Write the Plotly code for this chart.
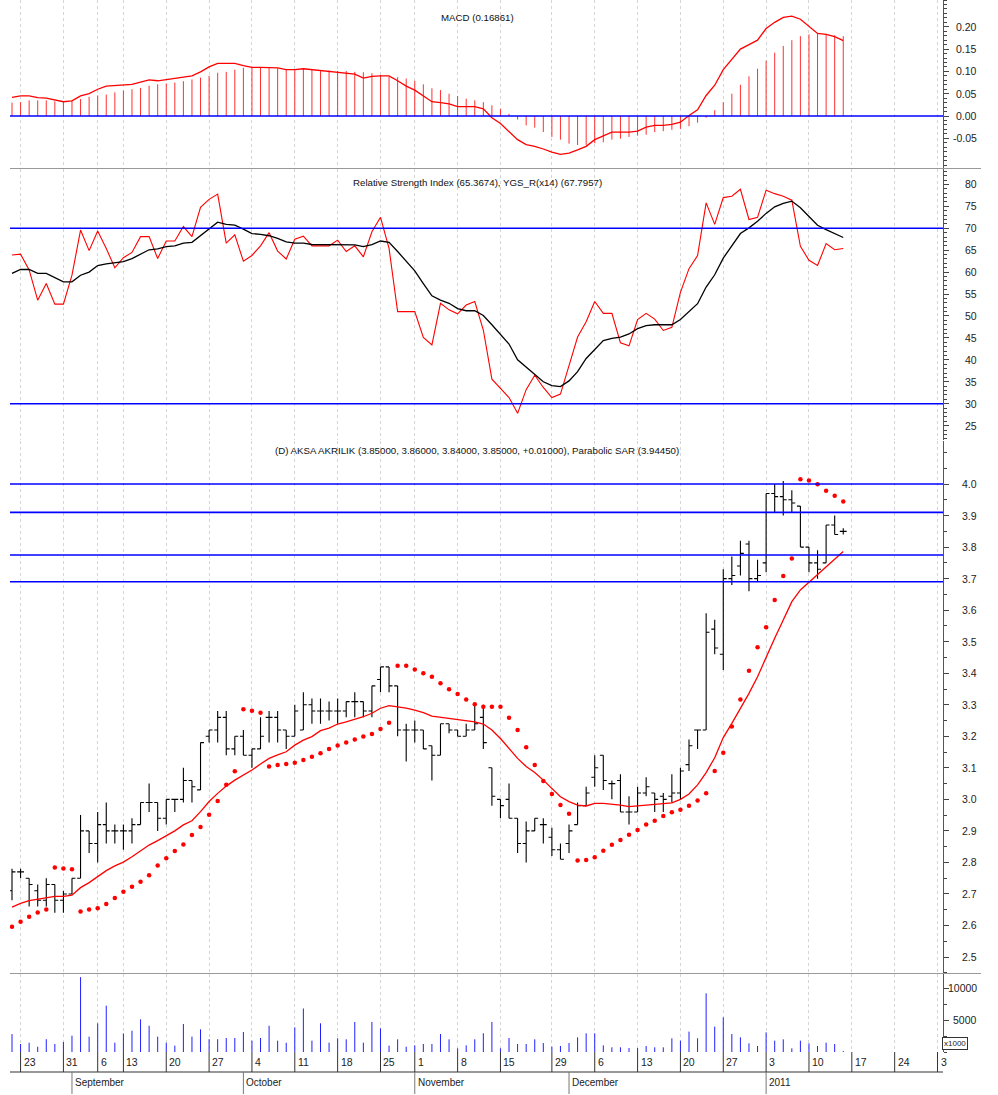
import pandas as pd
import plotly.graph_objects as go

# ---------------- data ----------------
holidays = ["2010-08-30", "2010-09-09", "2010-09-10", "2010-10-29",
            "2010-11-16", "2010-11-17", "2010-11-18", "2010-11-19"]
dates = [d for d in pd.bdate_range("2010-08-20", "2011-01-14").strftime("%Y-%m-%d") if d not in holidays]
future_days = list(pd.bdate_range("2011-01-17", "2011-02-04").strftime("%Y-%m-%d"))

opens = [2.71, 2.77, 2.75, 2.71, 2.68, 2.73, 2.68, 2.70, 2.75, 2.90,
         2.86, 2.92, 2.90, 2.90, 2.90, 2.92, 2.99, 2.99, 2.94, 3.00,
         3.00, 3.06, 3.03, 3.20, 3.22, 3.26, 3.16, 3.20, 3.14, 3.16,
         3.26, 3.26, 3.22, 3.20, 3.22, 3.30, 3.28, 3.28, 3.28, 3.28,
         3.31, 3.31, 3.28, 3.38, 3.42, 3.36, 3.22, 3.22, 3.22, 3.17,
         3.14, 3.24, 3.22, 3.20, 3.22, 3.26, 3.10, 3.00, 3.00, 2.94,
         2.86, 2.90, 2.92, 2.88, 2.84, 2.86, 2.92, 2.98, 3.07, 3.14,
         3.05, 3.06, 2.96, 2.96, 3.02, 3.02, 3.01, 3.01, 3.02, 3.11,
         3.22, 3.22, 3.54, 3.46, 3.70, 3.74, 3.81, 3.70, 3.75, 3.97,
         3.96, 3.95, 3.93, 3.80, 3.75, 3.75, 3.87, 3.85]
highs = [2.78, 2.78, 2.75, 2.73, 2.75, 2.73, 2.71, 2.75, 2.95, 2.90,
         2.96, 2.99, 2.92, 2.92, 2.94, 2.99, 3.05, 2.99, 3.00, 3.00,
         3.10, 3.06, 3.18, 3.22, 3.28, 3.28, 3.20, 3.22, 3.16, 3.26,
         3.28, 3.28, 3.22, 3.30, 3.34, 3.32, 3.32, 3.31, 3.32, 3.31,
         3.34, 3.31, 3.36, 3.42, 3.42, 3.36, 3.24, 3.25, 3.22, 3.17,
         3.24, 3.24, 3.22, 3.24, 3.30, 3.30, 3.10, 3.00, 3.05, 2.94,
         2.93, 2.94, 2.94, 2.91, 2.86, 2.92, 2.99, 3.04, 3.14, 3.14,
         3.06, 3.08, 3.01, 3.04, 3.07, 3.02, 3.02, 3.08, 3.10, 3.19,
         3.22, 3.59, 3.57, 3.73, 3.77, 3.82, 3.82, 3.76, 3.97, 4.00,
         4.01, 3.98, 3.93, 3.80, 3.79, 3.87, 3.90, 3.86]
lows = [2.68, 2.75, 2.66, 2.66, 2.66, 2.64, 2.64, 2.70, 2.75, 2.83,
        2.80, 2.86, 2.86, 2.84, 2.86, 2.92, 2.96, 2.90, 2.92, 2.96,
        2.99, 2.99, 3.03, 3.18, 3.18, 3.14, 3.14, 3.14, 3.10, 3.16,
        3.18, 3.18, 3.16, 3.20, 3.22, 3.24, 3.24, 3.25, 3.24, 3.26,
        3.26, 3.26, 3.26, 3.34, 3.34, 3.20, 3.12, 3.18, 3.16, 3.06,
        3.14, 3.21, 3.20, 3.20, 3.22, 3.16, 2.98, 2.94, 2.94, 2.83,
        2.80, 2.90, 2.86, 2.82, 2.81, 2.83, 2.92, 2.98, 3.04, 3.03,
        3.00, 2.96, 2.92, 2.96, 3.01, 2.96, 2.96, 2.99, 3.00, 3.09,
        3.16, 3.22, 3.46, 3.41, 3.68, 3.71, 3.66, 3.69, 3.72, 3.91,
        3.90, 3.91, 3.80, 3.72, 3.70, 3.75, 3.84, 3.84]
closes = [2.77, 2.77, 2.73, 2.68, 2.73, 2.68, 2.70, 2.75, 2.90, 2.86,
          2.92, 2.90, 2.90, 2.90, 2.92, 2.99, 2.99, 2.94, 3.00, 3.00,
          3.06, 3.04, 3.18, 3.22, 3.26, 3.16, 3.20, 3.14, 3.16, 3.20,
          3.26, 3.22, 3.20, 3.28, 3.30, 3.28, 3.28, 3.28, 3.28, 3.31,
          3.31, 3.28, 3.36, 3.42, 3.36, 3.22, 3.22, 3.22, 3.16, 3.14,
          3.24, 3.22, 3.20, 3.22, 3.24, 3.18, 3.01, 2.98, 2.94, 2.86,
          2.90, 2.94, 2.92, 2.84, 2.81, 2.90, 2.98, 3.02, 3.10, 3.06,
          3.05, 2.96, 2.96, 3.02, 3.04, 3.00, 3.00, 3.02, 3.09, 3.17,
          3.22, 3.53, 3.48, 3.70, 3.71, 3.78, 3.70, 3.71, 3.97, 3.96,
          3.95, 3.94, 3.80, 3.75, 3.73, 3.87, 3.84, 3.85]
sar = [2.596, 2.612, 2.628, 2.641, 2.651, 2.784, 2.781, 2.778, 2.644, 2.651,
       2.655, 2.668, 2.687, 2.707, 2.723, 2.739, 2.759, 2.790, 2.813, 2.836,
       2.857, 2.887, 2.912, 2.951, 2.995, 3.046, 3.089, 3.286, 3.281, 3.275,
       3.104, 3.109, 3.112, 3.116, 3.125, 3.135, 3.146, 3.160, 3.171, 3.180,
       3.190, 3.199, 3.207, 3.223, 3.243, 3.424, 3.424, 3.412, 3.400, 3.389,
       3.368, 3.349, 3.334, 3.317, 3.302, 3.294, 3.294, 3.294, 3.259, 3.220,
       3.165, 3.109, 3.058, 3.017, 2.982, 2.954, 2.806, 2.808, 2.816, 2.837,
       2.856, 2.871, 2.888, 2.903, 2.920, 2.932, 2.947, 2.959, 2.967, 2.980,
       2.996, 3.019, 3.090, 3.148, 3.231, 3.317, 3.408, 3.482, 3.546, 3.632,
       3.708, 3.764, 4.015, 4.011, 3.999, 3.979, 3.963, 3.945]
price_ma = [2.658, 2.670, 2.679, 2.684, 2.689, 2.692, 2.692, 2.696, 2.720, 2.736,
            2.755, 2.774, 2.789, 2.801, 2.818, 2.836, 2.855, 2.869, 2.884, 2.900,
            2.919, 2.932, 2.961, 2.993, 3.019, 3.042, 3.061, 3.077, 3.093, 3.112,
            3.130, 3.141, 3.151, 3.172, 3.188, 3.199, 3.218, 3.226, 3.239, 3.246,
            3.254, 3.262, 3.273, 3.289, 3.297, 3.294, 3.289, 3.283, 3.275, 3.264,
            3.260, 3.257, 3.254, 3.250, 3.246, 3.239, 3.220, 3.193, 3.162, 3.130,
            3.104, 3.085, 3.061, 3.035, 3.008, 2.993, 2.982, 2.979, 2.987, 2.987,
            2.985, 2.982, 2.977, 2.979, 2.982, 2.985, 2.987, 2.989, 3.000, 3.017,
            3.046, 3.085, 3.132, 3.196, 3.241, 3.289, 3.336, 3.389, 3.453, 3.511,
            3.569, 3.627, 3.664, 3.689, 3.712, 3.738, 3.762, 3.786]
price_levels = [4.00, 3.91, 3.775, 3.69]

rsi = [63.9, 64.1, 60.5, 53.6, 57.4, 52.7, 52.7, 59.3, 69.6, 64.9,
       69.4, 65.4, 61.0, 63.3, 64.5, 68.1, 68.1, 63.1, 67.1, 67.1,
       70.4, 68.1, 74.8, 76.6, 77.8, 66.6, 68.5, 62.5, 63.8, 66.0,
       69.0, 64.8, 63.0, 67.5, 68.2, 66.0, 66.0, 66.0, 67.3, 64.7,
       66.0, 63.5, 69.2, 72.5, 65.4, 51.0, 51.0, 51.0, 45.1, 43.4,
       52.9, 51.4, 50.5, 52.5, 53.3, 46.8, 35.6, 33.5, 31.4, 27.8,
       33.2, 36.5, 33.7, 31.4, 32.2, 38.7, 45.2, 48.7, 53.3, 50.6,
       50.6, 43.9, 43.2, 49.2, 50.6, 49.3, 46.7, 47.4, 55.4, 60.8,
       63.8, 75.8, 70.9, 77.0, 77.3, 78.9, 72.0, 72.5, 78.7, 77.9,
       77.3, 76.4, 65.9, 62.7, 61.5, 66.5, 65.1, 65.4]
rsi_ma = [59.7, 60.6, 60.6, 59.7, 59.7, 58.8, 57.8, 57.8, 59.3, 60.0,
          61.5, 61.9, 62.1, 62.4, 63.1, 64.1, 65.1, 65.3, 65.8, 66.0,
          66.6, 66.8, 68.3, 70.0, 71.4, 70.9, 70.7, 69.8, 68.8, 68.6,
          68.3, 67.7, 66.9, 66.6, 66.6, 66.3, 66.3, 66.3, 66.3, 66.3,
          66.2, 65.8, 66.3, 67.1, 66.8, 64.7, 62.4, 60.3, 57.4, 54.6,
          53.6, 52.9, 51.7, 51.2, 51.2, 50.1, 48.0, 45.9, 43.6, 40.0,
          38.3, 36.8, 35.0, 34.1, 33.9, 35.2, 37.3, 40.3, 42.3, 44.4,
          44.9, 45.2, 45.9, 47.1, 47.8, 48.0, 48.0, 48.0, 49.2, 50.9,
          52.8, 56.6, 59.4, 63.2, 66.0, 68.8, 70.1, 71.6, 73.4, 74.9,
          75.7, 76.2, 74.7, 72.6, 70.7, 69.7, 68.8, 67.9]
rsi_levels = [70, 30]

macd = [0.042, 0.045, 0.045, 0.041, 0.040, 0.036, 0.032, 0.034, 0.045, 0.050,
        0.060, 0.067, 0.068, 0.070, 0.071, 0.076, 0.081, 0.079, 0.082, 0.085,
        0.088, 0.090, 0.099, 0.110, 0.118, 0.118, 0.118, 0.113, 0.109, 0.109,
        0.109, 0.108, 0.104, 0.104, 0.106, 0.104, 0.102, 0.101, 0.098, 0.096,
        0.094, 0.085, 0.089, 0.090, 0.090, 0.079, 0.067, 0.058, 0.045, 0.032,
        0.030, 0.027, 0.021, 0.021, 0.021, 0.016, -0.004, -0.017, -0.036, -0.053,
        -0.064, -0.068, -0.074, -0.081, -0.086, -0.083, -0.076, -0.068, -0.053, -0.044,
        -0.036, -0.036, -0.036, -0.034, -0.025, -0.021, -0.021, -0.019, -0.014, 0.001,
        0.014, 0.046, 0.069, 0.104, 0.127, 0.150, 0.160, 0.170, 0.196, 0.210,
        0.221, 0.224, 0.217, 0.202, 0.185, 0.183, 0.178, 0.169]
macd_hist = [0.030, 0.031, 0.035, 0.035, 0.035, 0.033, 0.033, 0.035, 0.038, 0.043,
             0.046, 0.048, 0.053, 0.057, 0.060, 0.063, 0.068, 0.071, 0.073, 0.075,
             0.078, 0.082, 0.086, 0.090, 0.097, 0.099, 0.104, 0.108, 0.108, 0.108,
             0.108, 0.107, 0.105, 0.105, 0.105, 0.103, 0.103, 0.102, 0.101, 0.101,
             0.099, 0.098, 0.096, 0.092, 0.088, 0.087, 0.084, 0.079, 0.071, 0.062,
             0.058, 0.050, 0.045, 0.039, 0.035, 0.031, 0.024, 0.016, 0.005, -0.008,
             -0.021, -0.026, -0.036, -0.047, -0.053, -0.062, -0.065, -0.065, -0.061, -0.059,
             -0.053, -0.051, -0.047, -0.044, -0.042, -0.036, -0.034, -0.031, -0.029, -0.023,
             -0.015, -0.004, 0.013, 0.031, 0.050, 0.070, 0.089, 0.106, 0.124, 0.142,
             0.157, 0.170, 0.179, 0.183, 0.185, 0.183, 0.181, 0.179]
macd_levels = [0]

volume_k = [2800, 1250, 1450, 830, 2000, 1250, 1560, 2550, 11700, 2400,
            4480, 7240, 1450, 2900, 3330, 5100, 4100, 2400, 1450, 990,
            4370, 2400, 3540, 2000, 2000, 2190, 2190, 3120, 1770, 2190,
            4100, 1770, 1450, 3850, 6800, 1770, 4480, 1460, 2140, 1980,
            4690, 1460, 4690, 3700, 990, 1980, 830, 1040, 1250, 1250,
            2810, 1980, 570, 1040, 1980, 2920, 4690, 570, 2190, 1250,
            1250, 1980, 1400, 830, 940, 1400, 2290, 2920, 2920, 1040,
            730, 730, 620, 620, 940, 730, 730, 2140, 1770, 3180,
            2140, 9170, 3960, 5420, 2810, 2290, 1350, 940, 3070, 1770,
            1980, 570, 1770, 1350, 940, 1460, 1250, 160]

week_dates = ["2010-08-23", "2010-08-31", "2010-09-06", "2010-09-13", "2010-09-20", "2010-09-27",
              "2010-10-04", "2010-10-11", "2010-10-18", "2010-10-25", "2010-11-01", "2010-11-08",
              "2010-11-15", "2010-11-29", "2010-12-06", "2010-12-13", "2010-12-20", "2010-12-27",
              "2011-01-03", "2011-01-10", "2011-01-17", "2011-01-24", "2011-01-31"]
week_labels = ["23", "31", "6", "13", "20", "27", "4", "11", "18", "25", "1", "8",
               "15", "29", "6", "13", "20", "27", "3", "10", "17", "24", "3"]
month_dates = ["2010-09-01", "2010-10-01", "2010-11-01", "2010-12-01", "2011-01-03"]
month_labels = ["September", "October", "November", "December", "2011"]

macd_ticks = [-0.05, 0.0, 0.05, 0.10, 0.15, 0.20]
rsi_ticks = [25, 30, 35, 40, 45, 50, 55, 60, 65, 70, 75, 80]
price_ticks = [2.5, 2.6, 2.7, 2.8, 2.9, 3.0, 3.1, 3.2, 3.3, 3.4, 3.5, 3.6, 3.7, 3.8, 3.9, 4.0]
vol_ticks = [5000, 10000]

title_macd = "MACD (0.16861)"
title_rsi = "Relative Strength Index (65.3674), YGS_R(x14) (67.7957)"
title_price = "(D) AKSA AKRILIK (3.85000, 3.86000, 3.84000, 3.85000, +0.01000), Parabolic SAR (3.94450)"

# ---------------- layout helpers ----------------
W, H = 998, 1095
L, R = 10, 55
FONT = "Liberation Sans, Arial, sans-serif"
all_days = dates + future_days
pos = {d: i for i, d in enumerate(all_days)}
x = list(range(len(dates)))
week_pos = [pos[d] for d in week_dates]
month_pos = [pos[d] for d in month_dates]


def py(p):
    return 1 - p / H


def px_x(p):
    return (p - L) / (W - L - R)


def stems(xs, ys):
    sx, sy = [], []
    for a, b in zip(xs, ys):
        sx += [a, a, None]
        sy += [0, b, None]
    return sx, sy


XR = [-0.233, 108.64]
RED, BLUE = "#ff0000", "#0000ff"

fig = go.Figure()
# MACD
hx, hy = stems(x, macd_hist)
fig.add_trace(go.Scatter(x=hx, y=hy, mode="lines", line=dict(color="#ff3030", width=1),
                         xaxis="x", yaxis="y", hoverinfo="skip"))
fig.add_trace(go.Scatter(x=x, y=macd, mode="lines", line=dict(color=RED, width=1.3),
                         xaxis="x", yaxis="y", hoverinfo="skip"))
# RSI
fig.add_trace(go.Scatter(x=x, y=rsi, mode="lines", line=dict(color=RED, width=1.1),
                         xaxis="x2", yaxis="y2", hoverinfo="skip"))
fig.add_trace(go.Scatter(x=x, y=rsi_ma, mode="lines", line=dict(color="black", width=1.3),
                         xaxis="x2", yaxis="y2", hoverinfo="skip"))
# Price
fig.add_trace(go.Scatter(x=x, y=price_ma, mode="lines", line=dict(color=RED, width=1.3),
                         xaxis="x3", yaxis="y3", hoverinfo="skip"))
fig.add_trace(go.Ohlc(x=x, open=opens, high=highs, low=lows, close=closes, tickwidth=0.4,
                      increasing=dict(line=dict(color="black", width=1.1)),
                      decreasing=dict(line=dict(color="black", width=1.1)),
                      xaxis="x3", yaxis="y3", hoverinfo="skip"))
fig.add_trace(go.Scatter(x=x, y=sar, mode="markers", marker=dict(color=RED, size=4.5, line=dict(width=0)),
                         xaxis="x3", yaxis="y3", hoverinfo="skip"))
# Volume
vx, vy = stems(x, volume_k)
fig.add_trace(go.Scatter(x=vx, y=vy, mode="lines", line=dict(color="#2020ff", width=1),
                         xaxis="x4", yaxis="y4", hoverinfo="skip"))

panels = [
    ("y", [py(168), 1.0], [-0.1166, 0.2601], macd_ticks, 0.01, "{:.2f}"),
    ("y2", [py(440), py(169)], [21.72, 83.52], rsi_ticks, 1, "{:d}"),
    ("y3", [py(973), py(441)], [2.4493, 4.1365], price_ticks, 0.05, "{:.1f}"),
    ("y4", [py(1052), py(974)], [0, 12187], vol_ticks, 2500, "{:d}"),
]

layout = dict(width=W, height=H, margin=dict(l=L, r=R, t=0, b=0),
              paper_bgcolor="white", plot_bgcolor="white", showlegend=False,
              font=dict(family=FONT, size=10, color="#222"), hovermode=False)
annotations = []
shapes = []
for i, (yname, dom, rng, ticks, minor_dt, fmt) in enumerate(panels):
    xname = "x" if i == 0 else f"x{i + 1}"
    xkey = "xaxis" if i == 0 else f"xaxis{i + 1}"
    ykey = "yaxis" if i == 0 else f"yaxis{i + 1}"
    layout[xkey] = dict(domain=[0, 1], range=XR, anchor=yname, tickmode="array", tickvals=week_pos,
                        showticklabels=False, ticks="", showgrid=True, gridcolor="#d4d4d4",
                        griddash="dot", gridwidth=1, zeroline=False, showline=False,
                        rangeslider=dict(visible=False), fixedrange=True)
    layout[ykey] = dict(domain=dom, range=rng, anchor=xname, side="right", tickmode="array",
                        tickvals=ticks, showticklabels=False, ticks="outside", ticklen=5,
                        tickcolor="#444", tickwidth=1, showgrid=False, zeroline=False,
                        showline=True, linecolor="#555", linewidth=1, fixedrange=True,
                        minor=dict(tickmode="linear", tick0=0, dtick=minor_dt, ticks="outside",
                                   ticklen=3, tickcolor="#444", tickwidth=1, showgrid=False))
    for t in ticks:
        annotations.append(dict(x=px_x(978), xref="paper", y=t, yref=yname, text=fmt.format(t),
                                showarrow=False, xanchor="right", yanchor="middle", borderpad=0,
                                font=dict(family=FONT, size=10.5, color="#222")))

# horizontal level lines
for yname, levels in (("y", macd_levels), ("y2", rsi_levels), ("y3", price_levels)):
    for lv in levels:
        shapes.append(dict(type="line", xref="paper", x0=0, x1=1, yref=yname, y0=lv, y1=lv,
                           line=dict(color=BLUE, width=1.6), layer="above"))

# panel separators
for p in (168.5, 973.5):
    shapes.append(dict(type="line", xref="paper", x0=0, x1=px_x(981), yref="paper", y0=py(p), y1=py(p),
                       line=dict(color="#999", width=1), layer="above"))

# panel titles
for txt, p in ((title_macd, 17), (title_rsi, 182), (title_price, 450)):
    annotations.append(dict(x=px_x(477), xref="paper", y=py(p), yref="paper", text=txt, showarrow=False,
                            xanchor="center", yanchor="middle", font=dict(family=FONT, size=9.7, color="#111")))

# bottom date axis
shapes.append(dict(type="line", xref="paper", x0=0, x1=1, yref="paper", y0=py(1072), y1=py(1072),
                   line=dict(color="#333", width=1.2), layer="above"))
for xp, lab in zip(week_pos, week_labels):
    shapes.append(dict(type="line", xref="x4", x0=xp, x1=xp, yref="paper", y0=py(1052), y1=py(1072),
                       line=dict(color="#333", width=1), layer="above"))
    annotations.append(dict(x=xp, xref="x4", y=py(1062), yref="paper", text=lab, showarrow=False,
                            xanchor="left", yanchor="middle", xshift=1,
                            font=dict(family=FONT, size=10.5, color="#222")))
for xp, lab in zip(month_pos, month_labels):
    shapes.append(dict(type="line", xref="x4", x0=xp, x1=xp, yref="paper", y0=py(1072),
                       y1=py(1094), line=dict(color="#777", width=1), layer="above"))
    annotations.append(dict(x=xp, xref="x4", y=py(1082), yref="paper", text=lab, showarrow=False,
                            xanchor="left", yanchor="middle", xshift=1,
                            font=dict(family=FONT, size=10, color="#222")))

# volume multiplier box
annotations.append(dict(x=px_x(955), xref="paper", y=py(1043), yref="paper", text="x1000", showarrow=False,
                        xanchor="center", yanchor="middle", bordercolor="#333", borderwidth=1, borderpad=1,
                        bgcolor="white", font=dict(family=FONT, size=8, color="#222")))

layout["annotations"] = annotations
layout["shapes"] = shapes
fig.update_layout(**layout)
fig.write_html("out.html", config={"displayModeBar": False},
               post_script="document.body.style.margin='0px';document.body.style.padding='0px';")
